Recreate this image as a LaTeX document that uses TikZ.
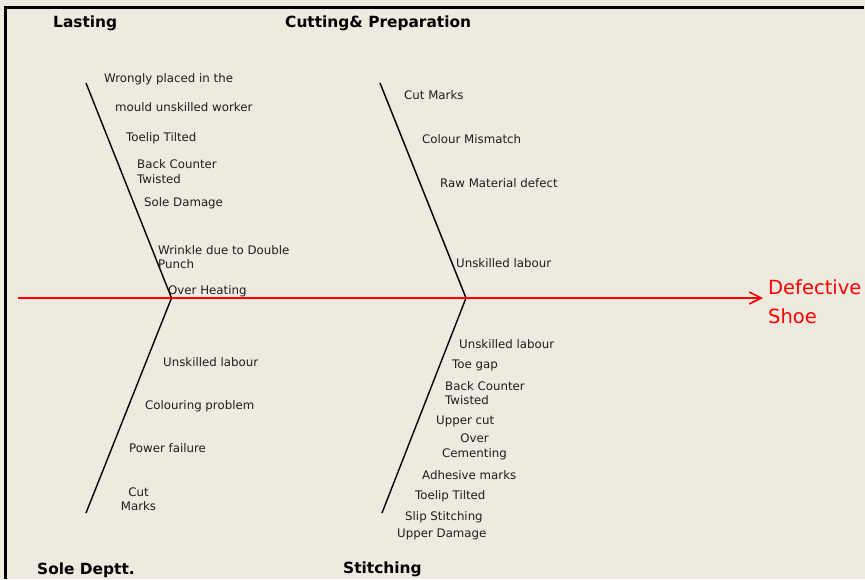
\documentclass[tikz,border=0pt]{standalone}
\usepackage{fontspec}
\setmainfont{DejaVu Sans}
\usetikzlibrary{arrows.meta}
\definecolor{bgc}{RGB}{238,234,224}
\definecolor{txt}{RGB}{30,30,30}
\tikzset{
  lbl/.style={anchor=west, inner sep=0pt, font=\fontsize{11.8}{14.5}\selectfont, text=txt, align=left},
  clbl/.style={anchor=center, inner sep=0pt, font=\fontsize{11.8}{14.5}\selectfont, text=txt, align=center},
  ttl/.style={anchor=west, inner sep=0pt, font=\fontsize{15.4}{18}\selectfont\bfseries, text=black},
  bone/.style={draw=black, line width=1.4pt},
  spine/.style={draw=red, line width=1.6pt},
}
\begin{document}
\begin{tikzpicture}[x=1pt,y=-1pt]
\fill[bgc] (0,0) rectangle (865,579);
\useasboundingbox (0,0) rectangle (865,579);
% border
\draw[line width=2.5pt] (5.5,579) -- (5.5,7.5) -- (864,7.5);
% coordinates
\coordinate (tail) at (18,298);
\coordinate (head) at (763,298);
\coordinate (j1) at (171.5,298);
\coordinate (j2) at (466,298);
\coordinate (lastTop) at (86,83);
\coordinate (soleBot) at (86,513);
\coordinate (cutTop) at (380,83);
\coordinate (stitBot) at (382,513);
% bones
\draw[bone] (lastTop) -- (j1) -- (soleBot);
\draw[bone] (cutTop) -- (j2) -- (stitBot);
% spine
\draw[spine, -{Straight Barb[length=12pt,width=12pt,line width=1.6pt]}] (tail) -- (head);
\node[anchor=west, inner sep=0pt, text=red, align=left, font=\fontsize{19.5}{29}\selectfont] (effect) at (768,302) {Defective\\Shoe};
% titles
\node[ttl] (tLast) at (53,23.5) {Lasting};
\node[ttl] (tCut) at (285,23.5) {Cutting\& Preparation};
\node[ttl] (tSole) at (37,570) {Sole Deptt.};
\node[ttl] (tStit) at (343,569) {Stitching};
% Lasting
\node[lbl] (l1) at (104,79) {Wrongly placed in the};
\node[lbl] (l2) at (115,107) {mould unskilled worker};
\node[lbl] (l3) at (126,138) {Toelip Tilted};
\node[lbl] (l4) at (137,171.5) {Back Counter\\Twisted};
\node[lbl] (l5) at (144,203) {Sole Damage};
\node[lbl] (l6) at (158,257) {Wrinkle due to Double\\Punch};
\node[lbl] (l7) at (168,291) {Over Heating};
% Sole
\node[lbl] (s1) at (163,362) {Unskilled labour};
\node[lbl] (s2) at (145,406) {Colouring problem};
\node[lbl] (s3) at (129,448) {Power failure};
\node[clbl] (s4) at (138.5,499) {Cut\\Marks};
% Cutting
\node[lbl] (c1) at (404,95) {Cut Marks};
\node[lbl] (c2) at (422,139) {Colour Mismatch};
\node[lbl] (c3) at (440,183) {Raw Material defect};
\node[lbl] (c4) at (456,263) {Unskilled labour};
% Stitching
\node[lbl] (t1) at (459,344) {Unskilled labour};
\node[lbl] (t2) at (452,365) {Toe gap};
\node[lbl] (t3) at (445,393) {Back Counter\\Twisted};
\node[lbl] (t4) at (436,421) {Upper cut};
\node[clbl] (t5) at (474.5,447) {Over\\Cementing};
\node[lbl] (t6) at (422,475) {Adhesive marks};
\node[lbl] (t7) at (415,496) {Toelip Tilted};
\node[lbl] (t8) at (405,517) {Slip Stitching};
\node[lbl] (t9) at (397,534) {Upper Damage};
\end{tikzpicture}
\end{document}
